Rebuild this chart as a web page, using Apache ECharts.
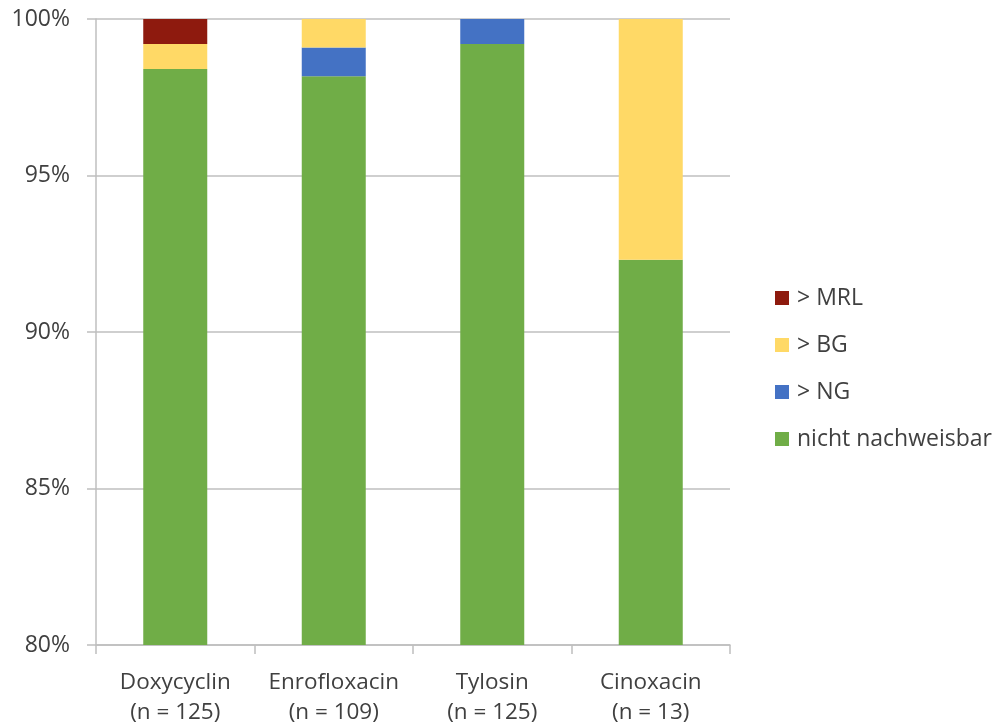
<!DOCTYPE html>
<html>
<head>
<meta charset="utf-8">
<script src="https://cdn.jsdelivr.net/npm/echarts@6/dist/echarts.min.js"></script>
<style>
  html, body { margin: 0; padding: 0; background: #ffffff; }
  #chart { width: 997px; height: 728px; }
</style>
</head>
<body>
<div id="chart"></div>
<script>
// Substances tested, with sample counts
const categories = ['Doxycyclin\n(n = 125)', 'Enrofloxacin\n(n = 109)', 'Tylosin\n(n = 125)', 'Cinoxacin\n(n = 13)'];

// Share of samples per result class, in percent
const nichtNachweisbar = [98.4, 98.17, 99.2, 92.31];
const ueberNG = [0, 0.92, 0.8, 0];
const ueberBG = [0.8, 0.92, 0, 7.69];
const ueberMRL = [0.8, 0, 0, 0];

const legendOrder = ['> MRL', '> BG', '> NG', 'nicht nachweisbar'];

const font = '"Open Sans", Lato, sans-serif';
const textColor = '#404040';
const lineColor = '#BFBFBF';

const chart = echarts.init(document.getElementById('chart'));

function barSeries(name, data, color) {
  return {
    name: name,
    type: 'bar',
    stack: 'total',
    barWidth: 64,
    clip: true,
    data: data,
    itemStyle: { color: color },
    emphasis: { disabled: true }
  };
}

chart.setOption({
  animation: false,
  backgroundColor: '#ffffff',
  textStyle: { fontFamily: font },
  grid: { left: 96, right: 267, top: 19, bottom: 83, containLabel: false },
  legend: {
    orient: 'vertical',
    left: 770,
    top: 279,
    itemWidth: 14,
    itemHeight: 14,
    itemGap: 19,
    icon: 'rect',
    data: legendOrder,
    textStyle: { fontFamily: font, fontSize: 23, lineHeight: 28, color: textColor, padding: [0, 0, 0, 3] }
  },
  xAxis: {
    type: 'category',
    data: categories,
    axisLine: { lineStyle: { color: lineColor, width: 1.5 } },
    axisTick: { show: true, interval: 0, length: 9, lineStyle: { color: lineColor, width: 1.5 } },
    axisLabel: { interval: 0, hideOverlap: false, fontFamily: font, fontSize: 22.5, color: textColor, lineHeight: 30, margin: 23 }
  },
  yAxis: {
    type: 'value',
    min: 80,
    max: 100,
    interval: 5,
    axisLine: { show: true, lineStyle: { color: lineColor, width: 1.5 } },
    axisTick: { show: true, length: 9, lineStyle: { color: lineColor, width: 1.5 } },
    splitLine: { show: true, lineStyle: { color: lineColor, width: 1.5 } },
    axisLabel: { fontFamily: font, fontSize: 23, color: textColor, margin: 26, formatter: '{value}%' }
  },
  series: [
    barSeries('nicht nachweisbar', nichtNachweisbar, '#70AD47'),
    barSeries('> NG', ueberNG, '#4472C4'),
    barSeries('> BG', ueberBG, '#FFD966'),
    barSeries('> MRL', ueberMRL, '#8E1A0E')
  ]
});
</script>
</body>
</html>
